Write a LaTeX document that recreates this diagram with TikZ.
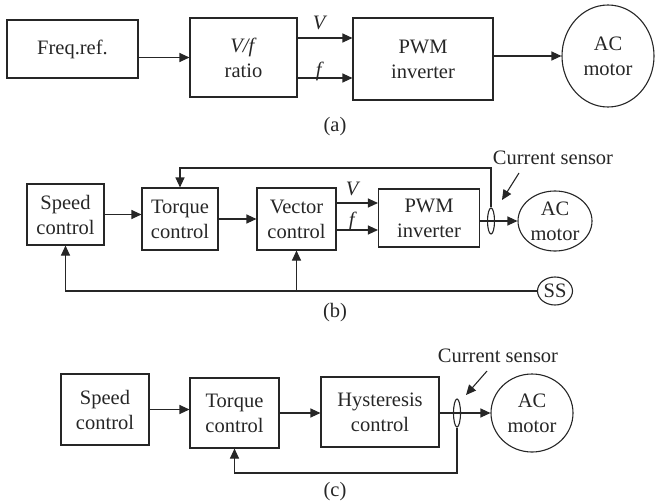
\documentclass[tikz,border=0pt]{standalone}
\usepackage{fontspec}
\setmainfont{Liberation Serif}
\usetikzlibrary{arrows.meta,shapes.geometric}
\begin{document}
\begin{tikzpicture}[x=1pt,y=-1pt,
  every node/.style={font=\fontsize{20.5}{25}\selectfont, text=black!85},
  box/.style={draw=black!85, line width=1.1pt, rectangle, inner sep=0pt, align=center},
  oval/.style={draw=black!85, line width=1.1pt, ellipse, inner sep=0pt, align=center},
  arr/.style={draw=black!85, line width=1.1pt, -{Triangle[length=10pt,width=9pt]}},
  lbl/.style={inner sep=0pt}]
\useasboundingbox (0,0) rectangle (655,501);
% ---------- (a) ----------
\node[box, minimum width=131pt, minimum height=58pt] (freq) at (72.5,49) {Freq.ref.};
\node[box, minimum width=107pt, minimum height=79pt] (vf) at (243.5,57.5) {\textit{V/f}\\ratio};
\node[box, minimum width=140pt, minimum height=82pt] (pwm) at (423,59) {PWM\\inverter};
\node[oval, minimum width=92pt, minimum height=102pt] (m1) at (608,56) {AC\\motor};
\node[lbl] (va) at (320,23) {\textit{V}};
\node[lbl] (fa) at (320,71) {\textit{f}};
\node[lbl] (capa) at (335,127) {(a)};
\coordinate (vao) at (297,38);
\coordinate (fao) at (297,78);
\draw[arr] (vf.west -| freq.east) -- (vf.west);
\draw[arr] (vao) -- (vao -| pwm.west);
\draw[arr] (fao) -- (fao -| pwm.west);
\draw[arr] (m1.west -| pwm.east) -- (m1.west);
% ---------- (b) ----------
\node[lbl] (csb) at (553,158) {Current sensor};
\node[box, minimum width=77pt, minimum height=61pt] (spb) at (65.5,214.5) {Speed\\control};
\node[box, minimum width=76pt, minimum height=62pt] (tqb) at (180,219) {Torque\\control};
\node[box, minimum width=79pt, minimum height=62pt] (vcb) at (296.5,219) {Vector\\control};
\node[box, minimum width=101pt, minimum height=58pt] (pwb) at (429,218) {PWM\\inverter};
\node[oval, minimum width=74pt, minimum height=60pt] (m2) at (555,221) {AC\\motor};
\node[oval, minimum width=7pt, minimum height=26pt] (sb) at (491,221) {};
\node[oval, minimum width=35pt, minimum height=28pt] (ss) at (555,291) {SS};
\node[lbl] (vb) at (353,189) {\textit{V}};
\node[lbl] (fb) at (353,221) {\textit{f}};
\node[lbl] (capb) at (335,313) {(b)};
\coordinate (vbo) at (336,203);
\coordinate (fbo) at (336,230);
\coordinate (fbt) at (491,168);
\coordinate (sab) at (519,173);
\coordinate (sabe) at (502,200);
\draw[arr] (spb.east) -- (spb.east -| tqb.west);
\draw[arr] (tqb.east) -- (vcb.west);
\draw[arr] (vbo) -- (vbo -| pwb.west);
\draw[arr] (fbo) -- (fbo -| pwb.west);
\draw[arr] (m2.west -| pwb.east) -- (m2.west);
\draw[arr] (sb.north) -- (fbt) -| (tqb.north);
\draw[arr] (sab) -- (sabe);
\draw[arr] (ss.west) -- (ss.west -| spb.south) -- (spb.south);
\draw[arr] (ss.west -| vcb.south) -- (vcb.south);
% ---------- (c) ----------
\node[lbl] (csc) at (498,356) {Current sensor};
\node[box, minimum width=88pt, minimum height=71pt] (spc) at (105,409.5) {Speed\\control};
\node[box, minimum width=89pt, minimum height=70pt] (tqc) at (234.5,413) {Torque\\control};
\node[box, minimum width=118pt, minimum height=70pt] (hyc) at (380,412) {Hysteresis\\control};
\node[oval, minimum width=82pt, minimum height=78pt] (m3) at (532,413) {AC\\motor};
\node[oval, minimum width=7pt, minimum height=28pt] (sc) at (457,413) {};
\node[lbl] (capc) at (335,492) {(c)};
\coordinate (fbc) at (457,473);
\coordinate (sac) at (487,371);
\coordinate (sace) at (466,395);
\draw[arr] (spc.east) -- (spc.east -| tqc.west);
\draw[arr] (tqc.east) -- (tqc.east -| hyc.west);
\draw[arr] (m3.west -| hyc.east) -- (m3.west);
\draw[arr] (sc.south) -- (fbc) -| (tqc.south);
\draw[arr] (sac) -- (sace);
\end{tikzpicture}
\end{document}
